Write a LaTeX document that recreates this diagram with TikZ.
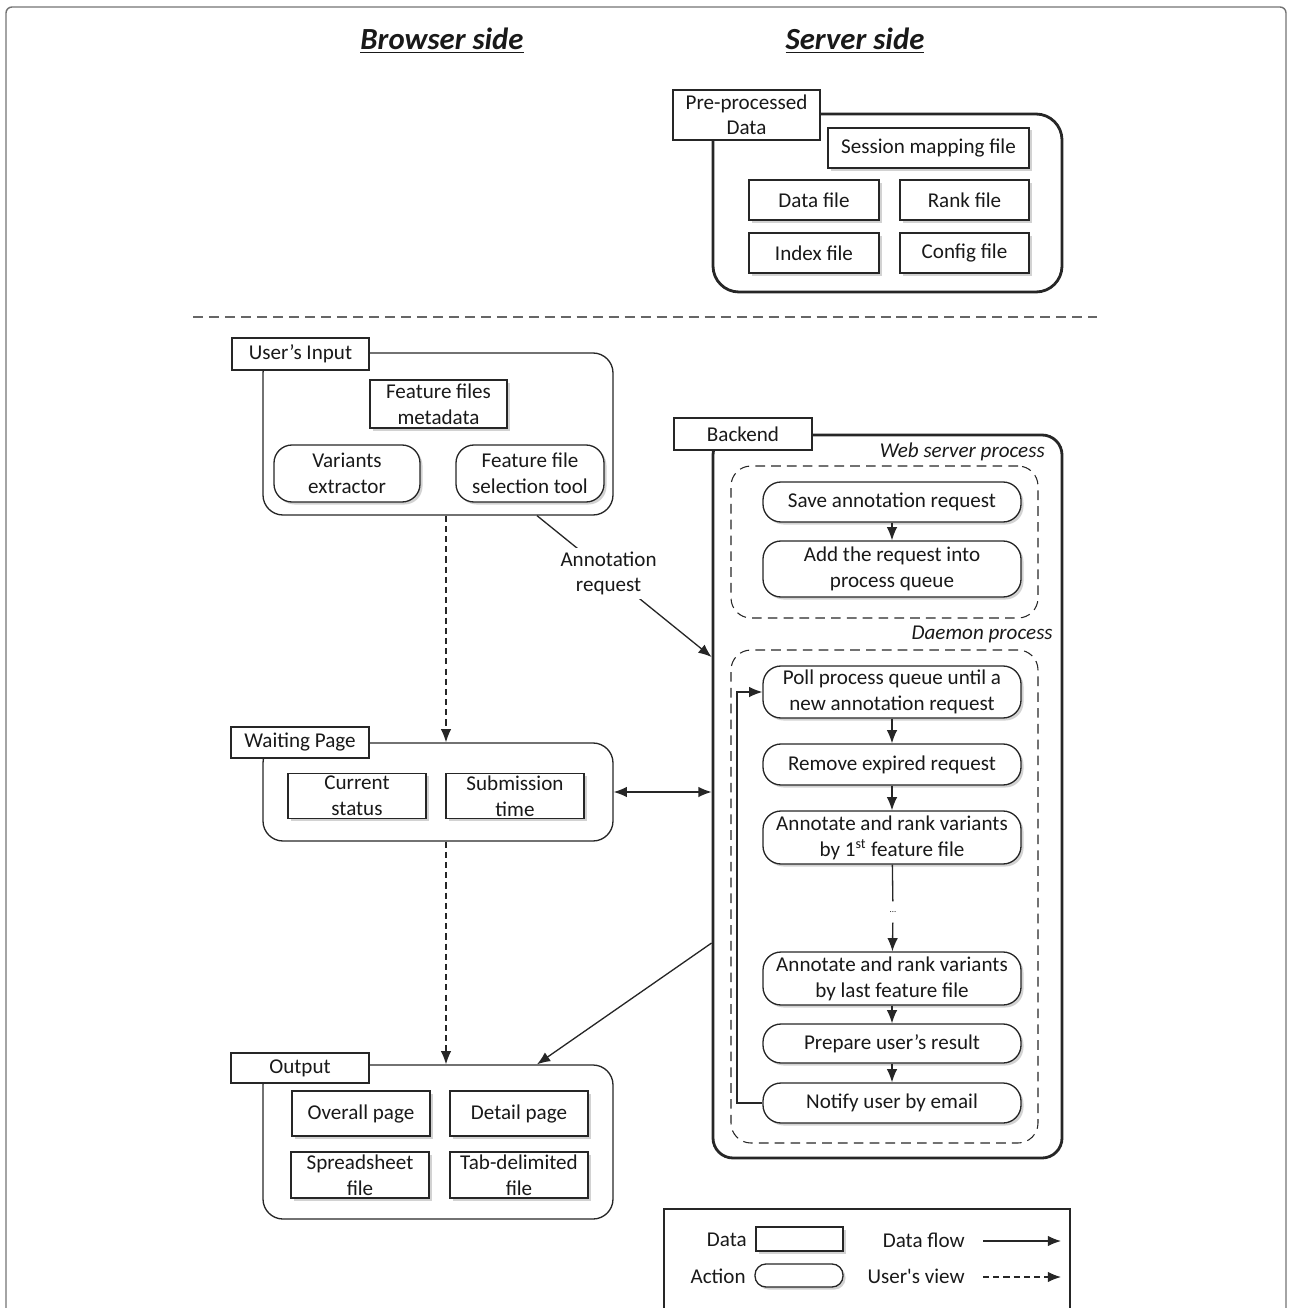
\documentclass[tikz,border=0pt]{standalone}
\usepackage{fontspec}
\setmainfont{Carlito}
\usepackage{tikz}
\usetikzlibrary{arrows.meta,shapes,positioning,shadows}
\newdimen\pxu \pxu=0.02cm
\tikzset{
  txt/.style={inner sep=0pt, font=\fontsize{12}{14.5}\selectfont},
  datbox/.style={draw=black!85, fill=white, line width=0.75pt, inner sep=0pt, align=center, font=\fontsize{12}{14.8}\selectfont, drop shadow={shadow xshift=2.5\pxu, shadow yshift=-2.5\pxu, fill=black!35}},
  actbox/.style={datbox, rounded corners=18\pxu},
  tagbox/.style={draw=black!85, fill=white, line width=0.75pt, inner sep=0pt, align=center, font=\fontsize{12}{14.5}\selectfont},
  grpbox/.style={draw=black!85, line width=0.75pt, rounded corners=20\pxu},
  thkbox/.style={grpbox, line width=1.6pt},
  procbox/.style={draw=black!85, line width=0.6pt, dash pattern=on 5.5pt off 3.5pt, rounded corners=20\pxu},
  flowarr/.style={draw=black!85, line width=0.75pt, -{Latex[length=7.5pt,width=6pt]}},
  viewarr/.style={flowarr, dash pattern=on 3.5pt off 2.3pt},
  biarr/.style={draw=black!85, line width=0.75pt, {Latex[length=7.5pt,width=6pt]}-{Latex[length=7.5pt,width=6pt]}}
}
\begin{document}
\begin{tikzpicture}[x=0.02cm, y=-0.02cm, text=black!90]
\useasboundingbox (0,0) rectangle (1292,1308);
%outside frame
\draw[black!55, line width=0.8pt, rounded corners=6\pxu] (6,1330) -- (6,7) -- (1286,7) -- (1286,1330);
%titles
\node[font=\fontsize{17.5}{20}\selectfont\bfseries\itshape] (browser) at (442,41) {\underline{Browser side}};
\node[font=\fontsize{17.5}{20}\selectfont\bfseries\itshape] (server) at (855,41) {\underline{Server side}};
%separator
\draw[black!60, line width=0.75pt, dash pattern=on 5.7pt off 3.4pt] (193,317) -- (1097,317);
%pre-processed data
\node[thkbox, rounded corners=26\pxu, minimum width=349\pxu, minimum height=178\pxu] (predata) at (887.5,203) {};
\node[tagbox, minimum width=147\pxu, minimum height=50\pxu] (predatatag) at (746.5,115) {Pre-processed\\Data};
\node[datbox, minimum width=201\pxu, minimum height=40\pxu] (session) at (928.5,148) {Session mapping file};
\node[datbox, minimum width=130\pxu, minimum height=40\pxu] (datafile) at (814,200) {Data file};
\node[datbox, minimum width=129\pxu, minimum height=40\pxu] (rankfile) at (964.5,200) {Rank file};
\node[datbox, minimum width=130\pxu, minimum height=40\pxu] (indexfile) at (814,253) {Index file};
\node[datbox, minimum width=129\pxu, minimum height=40\pxu] (configfile) at (964.5,253) {Config file};
%user's input
\node[grpbox, minimum width=350\pxu, minimum height=162\pxu] (input) at (438,434) {};
\node[tagbox, minimum width=137\pxu, minimum height=32\pxu] (inputtag) at (300.5,354) {User’s Input};
\node[datbox, minimum width=137\pxu, minimum height=48\pxu] (meta) at (438.5,404) {Feature files\\metadata};
\node[actbox, minimum width=146\pxu, minimum height=57\pxu] (extract) at (347,473.5) {Variants\\extractor};
\node[actbox, minimum width=148\pxu, minimum height=57\pxu] (select) at (530,473.5) {Feature file\\selection tool};
%waiting page
\node[grpbox, minimum width=350\pxu, minimum height=98\pxu] (wait) at (438,792) {};
\node[tagbox, minimum width=138\pxu, minimum height=31\pxu] (waittag) at (300,742.5) {Waiting Page};
\node[datbox, minimum width=138\pxu, minimum height=45\pxu] (status) at (357,796) {Current\\status};
\node[datbox, minimum width=138\pxu, minimum height=45\pxu] (subtime) at (515,796) {Submission\\time};
%output
\node[grpbox, minimum width=350\pxu, minimum height=154\pxu] (output) at (438,1142) {};
\node[tagbox, minimum width=138\pxu, minimum height=30\pxu] (outputtag) at (300,1068) {Output};
\node[datbox, minimum width=138\pxu, minimum height=45\pxu] (overall) at (361,1113.5) {Overall page};
\node[datbox, minimum width=138\pxu, minimum height=45\pxu] (detail) at (519,1113.5) {Detail page};
\node[datbox, minimum width=138\pxu, minimum height=46\pxu] (sheet) at (360,1175) {Spreadsheet\\file};
\node[datbox, minimum width=138\pxu, minimum height=46\pxu] (tabfile) at (519,1175) {Tab-delimited\\file};
%backend
\node[thkbox, minimum width=349\pxu, minimum height=723\pxu] (backend) at (887.5,796.5) {};
\node[tagbox, minimum width=138\pxu, minimum height=32\pxu] (backtag) at (743,434) {Backend};
%web server process
\node[procbox, minimum width=307\pxu, minimum height=152\pxu] (websrv) at (884.5,542) {};
\node[txt, anchor=east, font=\fontsize{12}{14.5}\selectfont\itshape] (webtitle) at (1045,452) {Web server process};
\node[actbox, minimum width=258\pxu, minimum height=40\pxu] (save) at (892,502) {Save annotation request};
\node[actbox, minimum width=258\pxu, minimum height=56\pxu] (addq) at (892,569) {Add the request into\\process queue};
\draw[flowarr] (save) -- (addq);
%daemon process
\node[procbox, minimum width=307\pxu, minimum height=493\pxu] (daemon) at (884.5,896.5) {};
\node[txt, anchor=east, font=\fontsize{12}{14.5}\selectfont\itshape] (daetitle) at (1053,634) {Daemon process};
\node[actbox, minimum width=258\pxu, minimum height=52\pxu] (poll) at (892,692) {Poll process queue until a\\new annotation request};
\node[actbox, minimum width=258\pxu, minimum height=41\pxu] (remove) at (892,764.5) {Remove expired request};
\node[actbox, minimum width=258\pxu, minimum height=53\pxu] (annfirst) at (892,837.5) {Annotate and rank variants\\by 1\textsuperscript{st} feature file};
\node[inner xsep=0pt, inner ysep=5.5pt, font=\tiny] (dots) at (893,912) {...};
\node[actbox, minimum width=258\pxu, minimum height=53\pxu] (annlast) at (892,978.5) {Annotate and rank variants\\by last feature file};
\node[actbox, minimum width=258\pxu, minimum height=39\pxu] (prepres) at (892,1043.5) {Prepare user’s result};
\node[actbox, minimum width=258\pxu, minimum height=40\pxu] (notify) at (892,1103) {Notify user by email};
\draw[flowarr] (poll) -- (remove);
\draw[flowarr] (remove) -- (annfirst);
\draw[draw=black!85, line width=0.75pt] (annfirst) -- (dots);
\draw[flowarr] (dots) -- (annlast);
\draw[flowarr] (annlast) -- (prepres);
\draw[flowarr] (prepres) -- (notify);
\coordinate (loopx) at (737,0);
\draw[flowarr] (notify.west) -- (notify.west -| loopx) -- (poll.west -| loopx) -- (poll.west);
%browser side arrows
\coordinate (viewx) at (446,0);
\draw[viewarr] (input.south -| viewx) -- (wait.north -| viewx);
\draw[viewarr] (wait.south -| viewx) -- (output.north -| viewx);
\coordinate (reqx) at (537,0); \coordinate (reqy) at (0,657);
\draw[flowarr] (input.south -| reqx) -- node[txt, pos=0.41, fill=white, align=center, inner sep=2pt] (reqlbl) {Annotation\\request} (backend.west |- reqy);
\draw[biarr] (wait.east) -- (wait.east -| backend.west);
\coordinate (resy) at (0,943); \coordinate (resx) at (537,0);
\draw[flowarr] (backend.west |- resy) -- (output.north -| resx);
%legend
\draw[draw=black!85, line width=0.75pt] (664,1209) rectangle (1070,1330);
\node[txt, anchor=east] (lgdata) at (747,1240) {Data};
\node[datbox, minimum width=87\pxu, minimum height=24\pxu] (lgdatbox) at (799.5,1239) {};
\node[txt, anchor=east] (lgact) at (746,1276) {Action};
\node[actbox, rounded corners=11\pxu, minimum width=88\pxu, minimum height=23\pxu] (lgactbox) at (799,1275.5) {};
\node[txt, anchor=east] (lgflow) at (965,1240) {Data flow};
\node[txt, anchor=east] (lgview) at (965,1276) {User\textquotesingle s view};
\coordinate (lgf1) at (983,1241); \coordinate (lgf2) at (1061,1241);
\draw[flowarr] (lgf1) -- (lgf2);
\coordinate (lgv1) at (983,1277); \coordinate (lgv2) at (1061,1277);
\draw[viewarr] (lgv1) -- (lgv2);
\end{tikzpicture}
\end{document}
